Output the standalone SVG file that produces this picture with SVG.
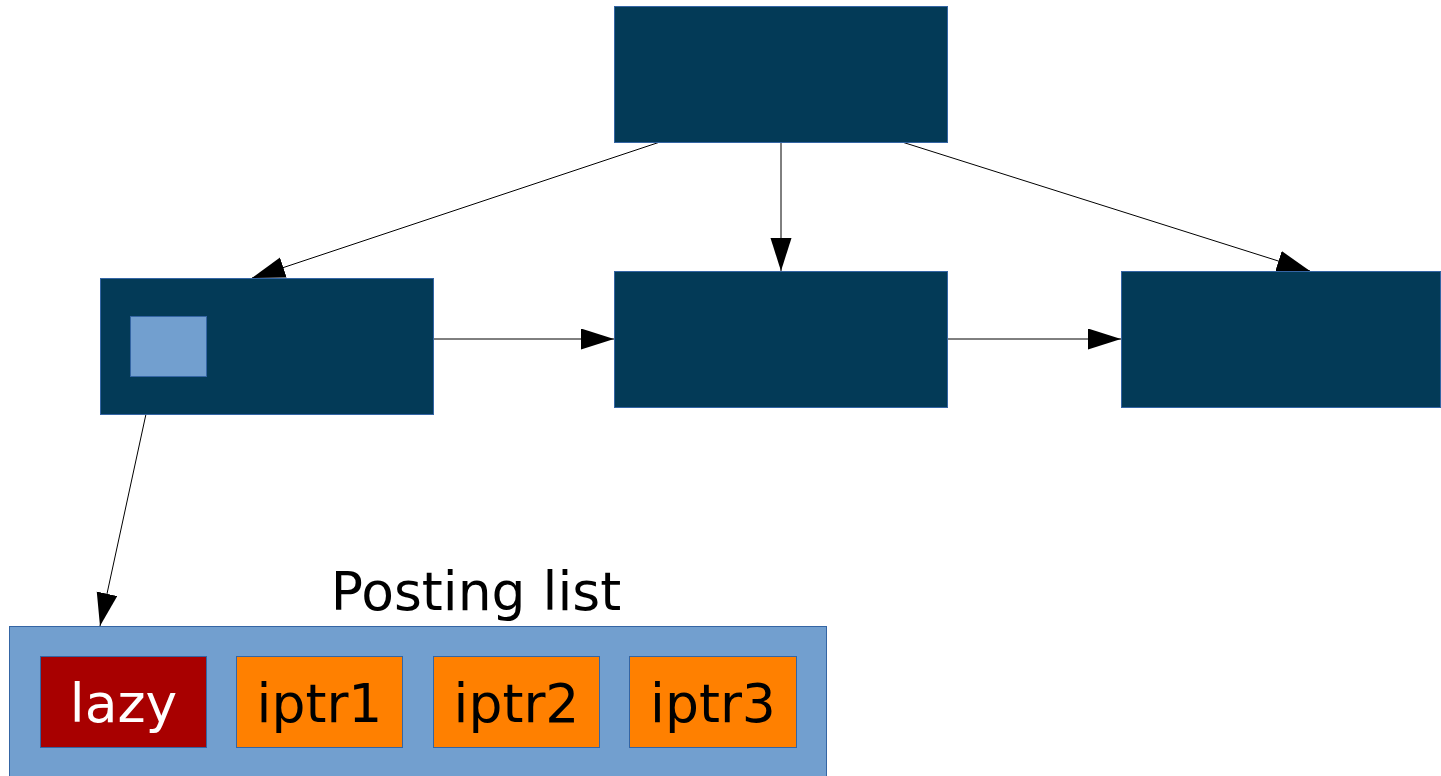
<svg xmlns="http://www.w3.org/2000/svg" width="1441" height="776" viewBox="0 0 1441 776">
  <style>
    .node { fill: #033a57; stroke: #3465a4; stroke-width: 1; }
    .slot { fill: #729fcf; stroke: #3465a4; stroke-width: 1; }
    .lazy { fill: #a80000; stroke: #3465a4; stroke-width: 1; }
    .iptr { fill: #ff8000; stroke: #3465a4; stroke-width: 1; }
    .edge { stroke: #000; stroke-width: 1; fill: none; marker-end: url(#arrow); }
    .label { font-family: "DejaVu Sans", sans-serif; font-size: 53.5px; text-anchor: middle; }
  </style>
  <defs>
    <marker id="arrow" markerUnits="userSpaceOnUse" markerWidth="34" markerHeight="22" refX="33" refY="10.5" orient="auto">
      <path d="M0,0 L33,10.5 L0,21 Z" fill="#000"/>
    </marker>
  </defs>
  <rect width="1441" height="776" fill="#fff"/>

  <!-- connectors -->
  <g id="connectors">
    <line class="edge" x1="660" y1="142" x2="252" y2="278"/>
    <line class="edge" x1="781" y1="142" x2="781" y2="271"/>
    <line class="edge" x1="902" y1="142" x2="1310" y2="271"/>
    <line class="edge" x1="433" y1="339" x2="614" y2="339"/>
    <line class="edge" x1="947" y1="339" x2="1121" y2="339"/>
    <line class="edge" x1="146" y1="414" x2="100" y2="626"/>
  </g>

  <g id="root">
    <rect class="node" x="614.5" y="6.5" width="333" height="136"/>
  </g>
  <g id="page-left">
    <rect class="node" x="100.5" y="278.5" width="333" height="136"/>
    <rect class="slot" x="130.5" y="316.5" width="76" height="60"/>
  </g>
  <g id="page-middle">
    <rect class="node" x="614.5" y="271.5" width="333" height="136"/>
  </g>
  <g id="page-right">
    <rect class="node" x="1121.5" y="271.5" width="319" height="136"/>
  </g>

  <g id="posting-list">
    <text class="label" x="476" y="610" fill="#000">Posting list</text>
    <rect class="slot" x="9.5" y="626.5" width="817" height="160"/>
    <g id="entry-lazy">
      <rect class="lazy" x="40.5" y="656.5" width="166" height="91"/>
      <text class="label" x="123.5" y="721.5" fill="#fff">lazy</text>
    </g>
    <g id="entry-iptr1">
      <rect class="iptr" x="236.5" y="656.5" width="166" height="91"/>
      <text class="label" x="319.5" y="721.5" fill="#000">iptr1</text>
    </g>
    <g id="entry-iptr2">
      <rect class="iptr" x="433.5" y="656.5" width="166" height="91"/>
      <text class="label" x="516.5" y="721.5" fill="#000">iptr2</text>
    </g>
    <g id="entry-iptr3">
      <rect class="iptr" x="629.5" y="656.5" width="167" height="91"/>
      <text class="label" x="713" y="721.5" fill="#000">iptr3</text>
    </g>
  </g>
</svg>
